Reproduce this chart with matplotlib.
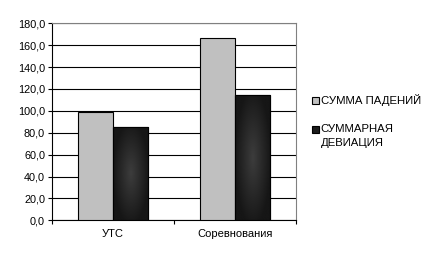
import numpy as np
import matplotlib
matplotlib.use("Agg")
import matplotlib.pyplot as plt
from matplotlib.ticker import FuncFormatter, MultipleLocator
from matplotlib.legend_handler import HandlerPatch
from matplotlib.patches import Rectangle

categories = ["УТС", "Соревнования"]
falls_sum = [98.8, 166.3]
deviation_sum = [85.5, 114.2]
series_names = ["СУММА ПАДЕНИЙ", "СУММАРНАЯ\nДЕВИАЦИЯ"]

plt.rcParams['font.family'] = ['Liberation Sans', 'DejaVu Sans']
plt.rcParams['font.size'] = 7.8

fig = plt.figure(figsize=(4.33, 2.61), dpi=100)
ax = fig.add_axes([52 / 433, 1 - 220.3 / 261, 244 / 433, 197 / 261])

x = np.arange(len(categories))
w = 0.287
bars1 = ax.bar(x - w / 2, falls_sum, w, color="#c0c0c0", edgecolor="black", linewidth=0.8, zorder=3)
bars2 = ax.bar(x + w / 2, deviation_sum, w, color="#1c1c1c", edgecolor="black", linewidth=0.8, zorder=3)

# radial-ish shading on the dark bars
gx, gy = np.meshgrid(np.linspace(-1, 1, 60), np.linspace(-1, 1, 120))
shade = np.clip(1 - np.sqrt(gx ** 2 + (gy * 0.9) ** 2), 0, 1)
cmap = matplotlib.colors.LinearSegmentedColormap.from_list("d", ["#161616", "#3c3c3c"])
for b in bars2:
    x0, y0 = b.get_x(), b.get_y()
    im = ax.imshow(shade, cmap=cmap,
                   extent=[x0, x0 + b.get_width(), y0, y0 + b.get_height()],
                   aspect="auto", zorder=3.5, interpolation="bilinear")
    im.set_clip_path(b)
    edge = plt.Rectangle((x0, y0), b.get_width(), b.get_height(), fill=False,
                         edgecolor="black", linewidth=0.8, zorder=4)
    ax.add_patch(edge)

ax.set_xlim(-0.5, 1.5)
ax.set_ylim(0, 180)
ax.yaxis.set_major_locator(MultipleLocator(20))
ax.yaxis.set_major_formatter(FuncFormatter(lambda v, p: f"{v:.1f}".replace(".", ",")))
ax.grid(axis="y", color="black", linewidth=0.8, zorder=1)
ax.set_xticks([-0.5, 0.5, 1.5])
ax.set_xticklabels([])
ax.set_xticks(x, minor=True)
ax.set_xticklabels(categories, minor=True, fontsize=8)
ax.tick_params(axis="x", which="minor", length=0, pad=6)
ax.tick_params(axis="x", which="major", length=3, direction="out", width=0.8)
ax.tick_params(axis="y", length=3, direction="out", width=0.8, pad=2)
ax.spines["top"].set_color("#808080")
ax.spines["top"].set_zorder(5)
ax.spines["right"].set_color("#808080")
ax.spines["left"].set_linewidth(0.8)
ax.spines["bottom"].set_linewidth(0.8)


# the two-line entry keeps its marker next to the first line
def raised_box(legend, orig_handle, xdescent, ydescent, width, height, fontsize):
    return Rectangle((-xdescent, -ydescent + 4.8), width, height)


h1, h2 = bars1.patches[0], bars2.patches[0]
leg = fig.legend([h1, h2], series_names, loc="upper left", bbox_to_anchor=(302 / 433, 1 - 84 / 261),
                 frameon=False, handlelength=0.55, handleheight=0.55, handletextpad=0.2,
                 labelspacing=1.6, fontsize=8.2,
                 handler_map={h2: HandlerPatch(patch_func=raised_box)})
for t in leg.get_texts():
    t.set_linespacing(1.45)

fig.savefig("out.png", dpi=100)
